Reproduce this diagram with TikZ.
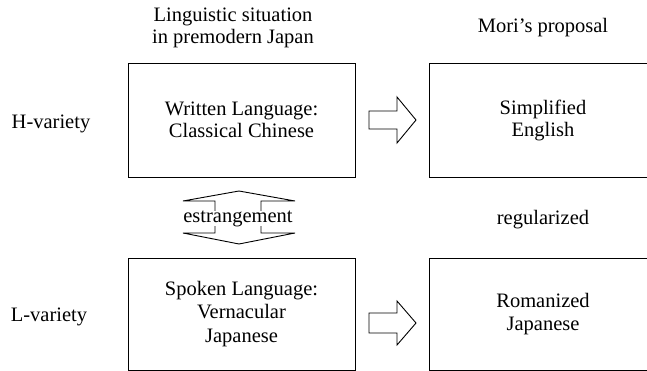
\documentclass[tikz,border=0pt]{standalone}
\usepackage{fontspec}
\setmainfont{Liberation Serif}
\begin{document}
\begin{tikzpicture}[x=1pt,y=-1pt,
  every node/.style={font=\fontsize{20.5}{22}\selectfont},
  box/.style={draw, line width=0.9pt, minimum width=227pt, minimum height=114pt, align=center, inner sep=0pt},
  lowbox/.style={box, minimum height=112pt, font=\fontsize{20.5}{23.5}\selectfont},
  lbl/.style={align=center, inner sep=0pt},
  blockarrow/.style={draw, line width=0.9pt, line join=miter}]
\useasboundingbox (0,0) rectangle (647,371);
\clip (0,0) rectangle (647,371);
% column headings
\node[lbl] (hl) at (233,28) {Linguistic situation\\in premodern Japan};
\node[lbl] (hr) at (543,28) {Mori’s proposal};
% row labels
\node[lbl] (hv) at (51,124) {H-variety};
\node[lbl] (lv) at (49,317) {L-variety};
% boxes
\node[box] (wl) at (241.5,120) {Written Language:\\Classical Chinese};
\node[box] (se) at (543,120) {Simplified\\English};
\node[lowbox] (sl) at (241.5,314) {Spoken Language:\\Vernacular\\Japanese};
\node[lowbox] (rj) at (543,314) {Romanized\\Japanese};
% block arrows
\draw[blockarrow] (369,111) -- (397,111) -- (397,97) -- (416,120) -- (397,143) -- (397,129) -- (369,129) -- cycle;
\draw[blockarrow] (369,313) -- (397,313) -- (397,301) -- (416,323) -- (397,345) -- (397,333) -- (369,333) -- cycle;
% double arrow
\draw[blockarrow] (215,201) -- (183,201) -- (239,191) -- (295,201) -- (261,201) -- (261,233) -- (295,233) -- (239,244) -- (183,233) -- (215,233) -- cycle;
\node[lbl, fill=white] (es) at (238,218.5) {estrangement};
\node[lbl] (rg) at (543,220) {regularized};
\end{tikzpicture}
\end{document}
